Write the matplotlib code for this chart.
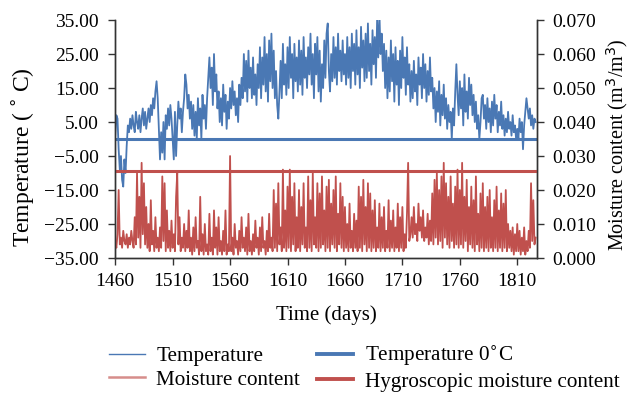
import matplotlib
matplotlib.use("Agg")
import matplotlib.pyplot as plt
from matplotlib.ticker import FixedLocator, FuncFormatter

# ---------------- data ----------------
start_day = 1460
temperature = [
    1, 7, 6, -3, -9, -5, -12, -14, -6, -10,
    -2, 4, 2, 6, 3, 7, 4, 2, 8, 5,
    3, 7, 2, 6, 9, 4, 8, 3, 6, 9,
    5, 10, 7, 12, 9, 14, 17, 12, 3, -6,
    2, -4, 5, -6, 7, 3, 9, 4, 10, 6,
    0, -6, 8, -5, 4, 11, 6, 9, 2, 8,
    12, 19, 16, 9, 13, 6, 11, 3, 10, 1,
    8, 0, 12, 4, 9, 0, 13, 6, 10, 3,
    12, 18, 24, 15, 21, 10, 25, 14, 19, 9,
    14, 5, 12, 4, 16, 8, 13, 3, 11, 6,
    15, 9, 17, 10, 14, 7, 12, 5, 16, 10,
    18, 12, 25, 14, 23, 11, 26, 15, 21, 12,
    24, 13, 19, 10, 22, 15, 27, 12, 24, 16,
    30, 14, 25, 11, 29, 17, 31, 15, 26, 12,
    20, 10, 6, 14, 23, 12, 28, 16, 22, 13,
    27, 15, 30, 18, 25, 12, 28, 17, 24, 14,
    29, 16, 26, 13, 30, 18, 24, 15, 27, 19,
    31, 16, 25, 12, 28, 19, 30, 14, 26, 11,
    22, 15, 29, 18, 31, 34, 20, 14, 25, 17,
    30, 18, 27, 16, 31, 20, 26, 17, 29, 19,
    25, 16, 30, 18, 27, 15, 31, 20, 28, 16,
    32, 19, 27, 15, 33, 21, 29, 17, 31, 18,
    34, 20, 28, 16, 32, 22, 30, 18, 35, 24,
    37, 25, 31, 20, 28, 15, 26, 12, 24, 14,
    29, 17, 25, 11, 27, 16, 23, 10, 26, 15,
    30, 18, 24, 13, 27, 16, 22, 11, 20, 12,
    23, 14, 19, 10, 24, 16, 21, 12, 25, 15,
    22, 11, 20, 13, 24, 14, 18, 9, 15, 5,
    14, 8, 17, 4, 13, 7, 16, 6, 12, 3,
    10, 5, 8, 0, 9, 4, 14, 22, 13, 7,
    17, 9, 15, 4, 19, 8, 14, 6, 18, 10,
    16, 7, 13, 5, 11, 3, 7, 0, 5, 12,
    13, 6, 10, 3, 12, 5, 9, 2, 11, 4,
    13, 6, 10, 2, 8, 4, 11, 3, 7, 1,
    6, 2, 8, 3, 5, 1, 7, 2, 4, 0,
    3, 0, 6, 2, 5, -3, 4, 8, 12, 9,
    6, 9, 4, 7, 3, 6, 5,
]
# moisture content in 1e-3 m3/m3
moisture_milli = [
    5, 3, 7, 20, 4, 6, 3, 8, 5, 4,
    7, 3, 6, 4, 8, 5, 3, 12, 4, 25,
    6, 18, 3, 28, 7, 22, 4, 15, 3, 10,
    2, 17, 4, 8, 2, 12, 3, 6, 2, 9,
    3, 24, 5, 22, 2, 14, 3, 8, 2, 11,
    3, 7, 2, 18, 25, 4, 12, 2, 6, 3,
    10, 2, 8, 3, 14, 2, 6, 1, 9, 2,
    12, 3, 5, 1, 18, 2, 7, 1, 10, 2,
    4, 1, 13, 2, 6, 1, 14, 3, 9, 1,
    12, 2, 5, 1, 8, 2, 14, 1, 4, 2,
    30, 2, 6, 1, 10, 3, 5, 1, 8, 2,
    12, 3, 6, 2, 9, 1, 13, 2, 5, 1,
    7, 2, 11, 3, 6, 1, 9, 2, 12, 3,
    5, 1, 8, 2, 13, 3, 6, 2, 20, 3,
    16, 2, 22, 4, 9, 2, 26, 3, 14, 2,
    21, 3, 26, 2, 18, 4, 22, 2, 12, 3,
    20, 2, 15, 4, 22, 3, 9, 2, 24, 3,
    17, 2, 25, 4, 12, 3, 22, 2, 19, 3,
    24, 4, 14, 2, 21, 3, 23, 2, 16, 4,
    20, 3, 24, 2, 13, 4, 22, 3, 18, 2,
    15, 3, 10, 2, 16, 3, 8, 2, 13, 3,
    11, 2, 21, 3, 18, 2, 23, 4, 15, 2,
    22, 3, 19, 2, 14, 3, 17, 2, 9, 3,
    16, 2, 12, 3, 15, 2, 8, 3, 17, 2,
    11, 3, 14, 2, 9, 3, 16, 2, 12, 3,
    15, 2, 7, 3, 13, 28, 5, 7, 12, 6,
    15, 7, 10, 5, 16, 8, 12, 6, 14, 5,
    9, 6, 13, 4, 11, 5, 19, 4, 23, 6,
    25, 4, 20, 5, 24, 3, 28, 6, 22, 4,
    18, 3, 24, 5, 16, 3, 21, 4, 26, 3,
    20, 4, 28, 3, 18, 5, 23, 2, 15, 4,
    21, 3, 17, 2, 24, 4, 13, 2, 19, 3,
    22, 2, 15, 3, 18, 2, 20, 3, 12, 2,
    17, 3, 21, 2, 14, 3, 19, 2, 16, 3,
    20, 2, 10, 3, 8, 2, 9, 1, 7, 2,
    10, 2, 8, 1, 6, 2, 9, 1, 5, 2,
    8, 3, 22, 5, 17, 4, 6,
]
temp_zero = 0.0
hygroscopic = 0.0257
x_ticks = [1460, 1510, 1560, 1610, 1660, 1710, 1760, 1810]
temp_ticks = [-35, -25, -15, -5, 5, 15, 25, 35]
moist_ticks = [0.000, 0.010, 0.020, 0.030, 0.040, 0.050, 0.060, 0.070]

days = list(range(start_day, start_day + len(temperature)))
days_m = list(range(start_day, start_day + len(moisture_milli)))
moisture = [v / 1000.0 for v in moisture_milli]

# ---------------- style ----------------
plt.rcParams['font.family'] = ['Liberation Serif', 'DejaVu Serif']
FS_TICK = 14
BLUE = '#4a78b4'
RED = '#c0504d'
SPINE = '#333333'

fig = plt.figure(figsize=(6.33, 3.93), dpi=100)
ax = fig.add_axes([0.182, 0.3435, 0.666, 0.6055])
ax2 = ax.twinx()

l_t, = ax.plot(days, temperature, color=BLUE, lw=1.3, label='Temperature')
l_t0 = ax.axhline(temp_zero, color=BLUE, lw=2.2, label='Temperature 0$^{\\circ}$C')
l_m, = ax2.plot(days_m, moisture, color=RED, lw=1.3, label='Moisture content')
l_h = ax2.axhline(hygroscopic, color=RED, lw=2.2, label='Hygroscopic moisture content')

ax.set_xlim(1460, 1827)
ax.set_ylim(-35, 35)
ax2.set_ylim(0, 0.070)
ax.xaxis.set_major_locator(FixedLocator(x_ticks))
ax.yaxis.set_major_locator(FixedLocator(temp_ticks))
ax2.yaxis.set_major_locator(FixedLocator(moist_ticks))
ax.yaxis.set_major_formatter(FuncFormatter(lambda v, p: ('\u2212%.2f' % abs(v)) if v < 0 else '%.2f' % v))
ax2.yaxis.set_major_formatter(FuncFormatter(lambda v, p: '%.3f' % v))

for a in (ax, ax2):
    a.spines['top'].set_visible(False)
    for s in ('left', 'right', 'bottom'):
        a.spines[s].set_color(SPINE)
        a.spines[s].set_linewidth(1.0)
    a.tick_params(direction='out', length=5, width=1.0, color=SPINE, labelsize=FS_TICK)
ax.tick_params(axis='y', pad=7)
ax2.tick_params(axis='y', pad=6)
ax.tick_params(axis='x', pad=6)

ax.set_xlabel('Time (days)', fontsize=15, labelpad=11)
ax.set_ylabel('Temperature (\u2009$^{\\circ}$\u2009C)', fontsize=17)
ax.yaxis.set_label_coords(-0.186, 0.425)
ax2.set_ylabel('Moisture content (m$^3$/m$^3$)', fontsize=14.5)
ax2.yaxis.set_label_coords(1.160, 0.475)

handles = [l_t, l_m, l_t0, l_h]
labels = ['Temperature', 'Moisture content', 'Temperature 0$^{\\circ}$C', 'Hygroscopic moisture content']
leg = fig.legend(handles, labels, ncol=2, loc='center', bbox_to_anchor=(0.575, 0.064),
                 frameon=False, fontsize=15.2, handlelength=1.7, columnspacing=0.8,
                 labelspacing=0.18, handletextpad=0.56, borderpad=0.1)
leg.legend_handles[1].set_alpha(0.65)
leg.legend_handles[0].set_linewidth(1.0)
leg.legend_handles[1].set_linewidth(1.8)
leg.legend_handles[2].set_linewidth(2.8)
leg.legend_handles[3].set_linewidth(2.8)

fig.savefig('out.png', dpi=100)
